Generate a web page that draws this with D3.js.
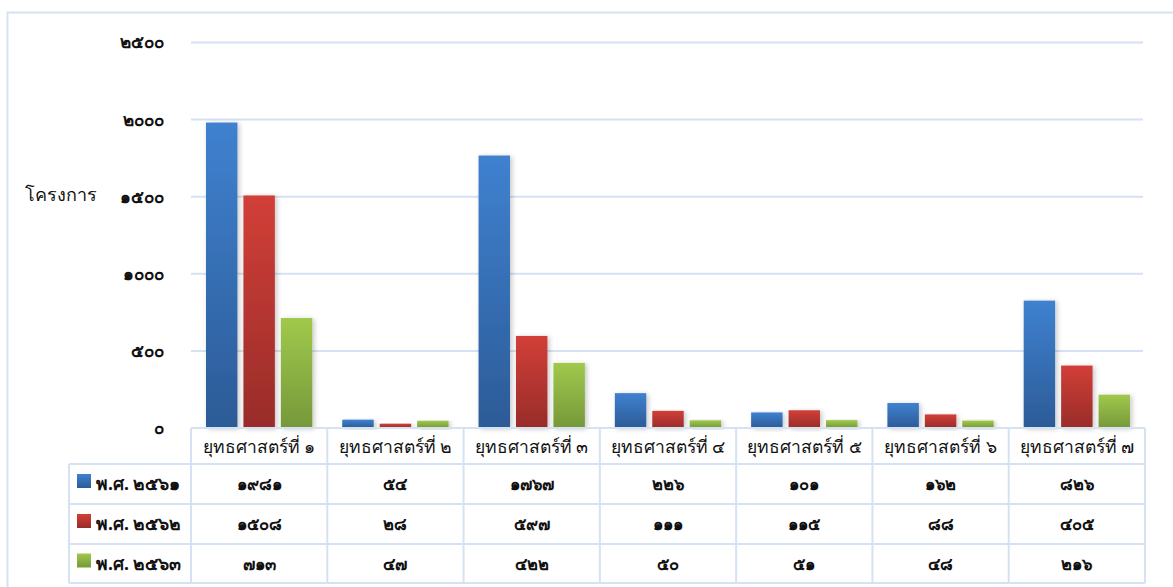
<!DOCTYPE html>
<html>
<head>
<meta charset="utf-8">
<script src="https://cdn.jsdelivr.net/npm/d3@7"></script>
<style>
  body { margin: 0; background: #fff; }
  text { font-family: "Noto Sans", "DejaVu Sans", sans-serif; fill: #111; }
</style>
</head>
<body>
<div id="chart"></div>
<script>
// data
const categories = ['ยุทธศาสตร์ที่ 1', 'ยุทธศาสตร์ที่ 2', 'ยุทธศาสตร์ที่ 3', 'ยุทธศาสตร์ที่ 4',
  'ยุทธศาสตร์ที่ 5', 'ยุทธศาสตร์ที่ 6', 'ยุทธศาสตร์ที่ 7'];
const seriesNames = ['พ.ศ. 2561', 'พ.ศ. 2562', 'พ.ศ. 2563'];
const values2561 = [1981, 54, 1767, 226, 101, 162, 826];
const values2562 = [1508, 28, 597, 111, 115, 88, 405];
const values2563 = [713, 47, 422, 50, 51, 48, 216];
const tickValues = [0, 500, 1000, 1500, 2000, 2500];
const yLabel = 'โครงการ';

const allValues = [values2561, values2562, values2563];
const colors = [
  { top: '#3f81d0', bottom: '#2c5b97' },
  { top: '#d23f38', bottom: '#982c29' },
  { top: '#a0c94c', bottom: '#76983a' }
];

// thai digits
const thaiDigits = '๐๑๒๓๔๕๖๗๘๙';
function thai(s) {
  return String(s).replace(/[0-9]/g, function(c) { return thaiDigits[+c]; });
}

let width = 1173, height = 587;
let margin = { top: 42.5, left: 191, right: 1145, bottom: 428 };

let svg = d3.select('#chart')
  .append('svg')
  .attr('width', width)
  .attr('height', height);

// gradients + shadow
let defs = svg.append('defs');
colors.forEach(function(c, i) {
  let g = defs.append('linearGradient')
    .attr('id', 'grad' + i)
    .attr('x1', 0).attr('y1', 0).attr('x2', 0).attr('y2', 1);
  g.append('stop').attr('offset', '0%').attr('stop-color', c.top);
  g.append('stop').attr('offset', '100%').attr('stop-color', c.bottom);
});
let f = defs.append('filter').attr('id', 'shadow')
  .attr('x', '-30%').attr('y', '-10%').attr('width', '170%').attr('height', '130%');
f.append('feDropShadow')
  .attr('dx', 2).attr('dy', 1).attr('stdDeviation', 2.5)
  .attr('flood-color', '#000').attr('flood-opacity', 0.22);

// outer border
svg.append('rect')
  .attr('x', 7.5).attr('y', 12.5)
  .attr('width', 1200).attr('height', 620)
  .attr('fill', 'none')
  .attr('stroke', '#d5e2f3')
  .attr('stroke-width', 2);

// scales
let yScale = d3.scaleLinear()
  .domain([0, 2500])
  .range([margin.bottom, margin.top]);

let xScale = d3.scaleBand()
  .domain(categories)
  .range([margin.left, margin.right])
  .padding(0);

let xInner = d3.scaleBand()
  .domain(seriesNames)
  .range([0, xScale.bandwidth()])
  .paddingInner(0.16)
  .paddingOuter(0.4);

// gridlines
svg.append('g')
  .selectAll('line')
  .data(tickValues.slice(1))
  .enter()
  .append('line')
    .attr('x1', margin.left)
    .attr('x2', margin.right - 2)
    .attr('y1', function(d) { return yScale(d); })
    .attr('y2', function(d) { return yScale(d); })
    .attr('stroke', '#d5e2f3')
    .attr('stroke-width', 2);

// y axis labels
let yAxis = svg.append('g')
  .attr('transform', `translate(${margin.left - 24},0)`)
  .call(d3.axisLeft(yScale).tickValues(tickValues).tickSize(0).tickFormat(thai));
yAxis.select('.domain').remove();
yAxis.selectAll('text')
  .style('font-family', '"Noto Sans", sans-serif')
  .style('font-size', '17px')
  .style('font-weight', 'bold')
  .attr('fill', '#111');

svg.append('text')
  .attr('x', 25)
  .attr('y', 201)
  .style('font-size', '18px')
  .text(yLabel);

// bars
allValues.forEach(function(vals, si) {
  svg.append('g')
    .selectAll('rect')
    .data(vals)
    .enter()
    .append('rect')
      .attr('x', function(d, i) { return xScale(categories[i]) + xInner(seriesNames[si]); })
      .attr('y', function(d) { return yScale(d); })
      .attr('width', xInner.bandwidth())
      .attr('height', function(d) { return margin.bottom - yScale(d); })
      .attr('fill', 'url(#grad' + si + ')')
      .attr('filter', 'url(#shadow)');
});

// data table
let rowTops = [428, 464, 504, 544, 583];
let legendLeft = 69;
let lineColor = '#d5e2f3';
let table = svg.append('g');

// horizontal lines
rowTops.forEach(function(y, i) {
  table.append('line')
    .attr('x1', i == 0 ? margin.left : legendLeft)
    .attr('x2', margin.right)
    .attr('y1', y).attr('y2', y)
    .attr('stroke', lineColor).attr('stroke-width', 2);
});
// vertical lines
let xs = categories.map(function(c) { return xScale(c); }).concat([margin.right]);
xs.forEach(function(x) {
  table.append('line')
    .attr('x1', x).attr('x2', x)
    .attr('y1', rowTops[0]).attr('y2', rowTops[4])
    .attr('stroke', lineColor).attr('stroke-width', 2);
});
table.append('line')
  .attr('x1', legendLeft).attr('x2', legendLeft)
  .attr('y1', rowTops[1]).attr('y2', rowTops[4])
  .attr('stroke', lineColor).attr('stroke-width', 2);

// header
table.selectAll('.hdr')
  .data(categories)
  .enter()
  .append('text')
    .attr('x', function(d) { return xScale(d) + xScale.bandwidth() / 2; })
    .attr('y', (rowTops[0] + rowTops[1]) / 2 + 7)
    .attr('text-anchor', 'middle')
    .style('font-size', '17.5px')
    .text(function(d) { return thai(d); });

// rows
allValues.forEach(function(vals, si) {
  let yMid = (rowTops[si + 1] + rowTops[si + 2]) / 2;
  table.append('rect')
    .attr('x', 77).attr('y', yMid - 10)
    .attr('width', 14).attr('height', 14)
    .attr('fill', 'url(#grad' + si + ')');
  table.append('text')
    .attr('x', 96).attr('y', yMid + 6)
    .style('font-size', '17.5px')
    .style('font-weight', 'bold')
    .text(thai(seriesNames[si]));
  table.selectAll('.v' + si)
    .data(vals)
    .enter()
    .append('text')
      .attr('x', function(d, i) { return xScale(categories[i]) + xScale.bandwidth() / 2; })
      .attr('y', yMid + 6)
      .attr('text-anchor', 'middle')
      .style('font-size', '16.5px')
      .style('font-weight', 'bold')
      .text(function(d) { return thai(d); });
});
</script>
</body>
</html>
